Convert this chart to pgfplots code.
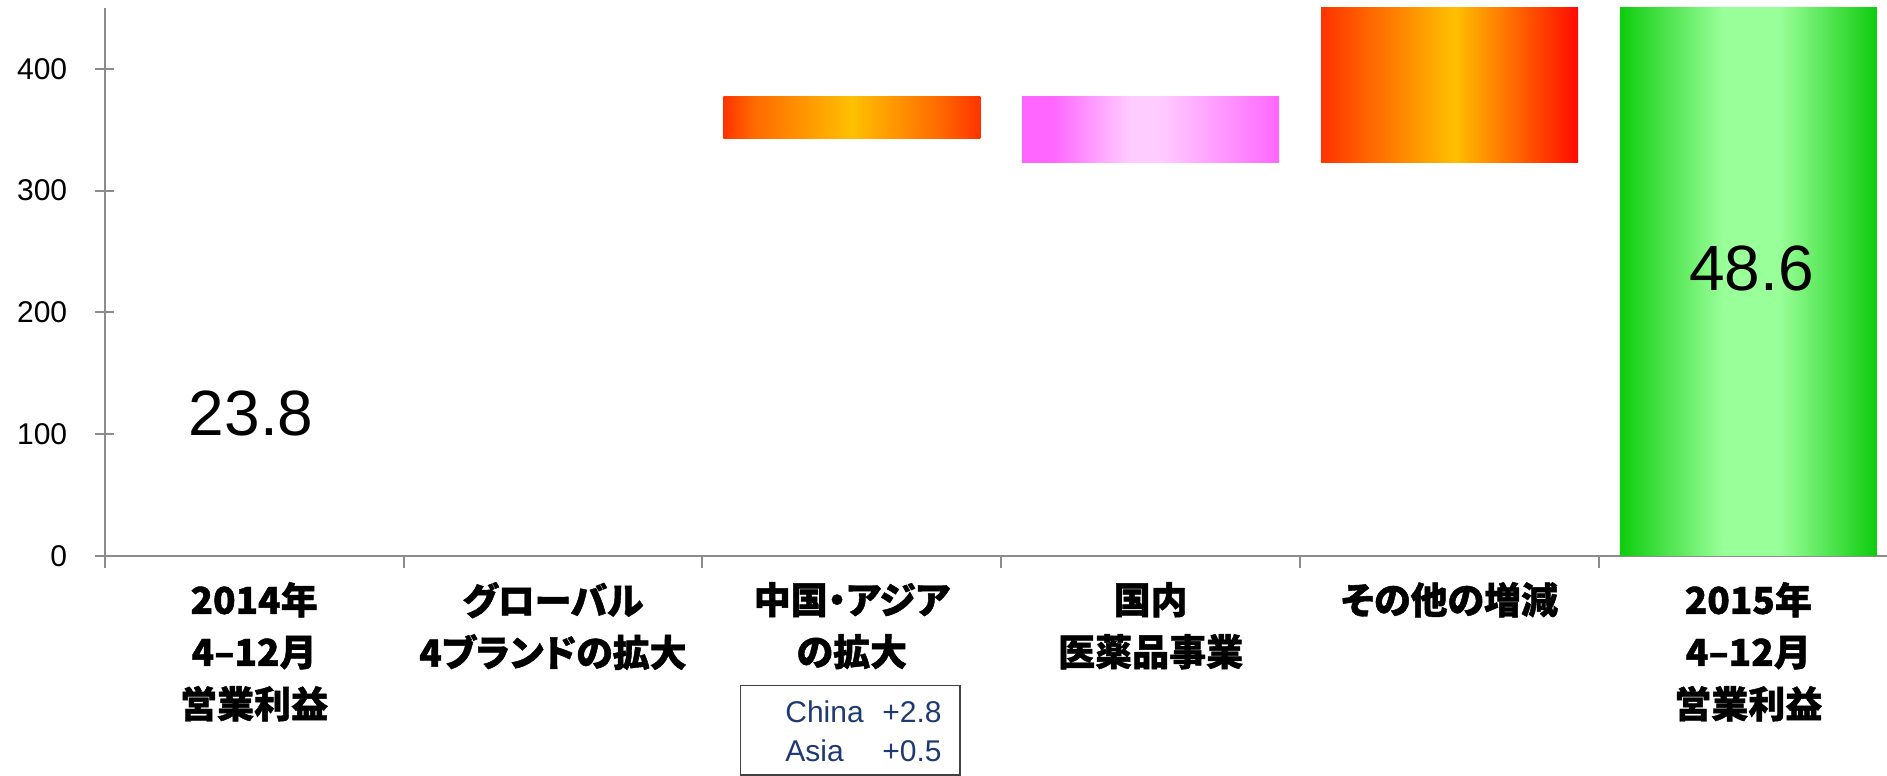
\documentclass[border=0pt]{standalone}
\usepackage{pgfplots}
\pgfplotsset{compat=1.18}
\usepackage{fontspec}
\setmainfont{Liberation Sans}
\newfontfamily\jpfont{Noto Sans CJK JP}[RawFeature=+palt, BoldFeatures={FakeBold=1.2}]

\definecolor{axgray}{HTML}{8C8C8C}
\definecolor{boxgray}{HTML}{404040}
\definecolor{boxblue}{HTML}{1F3A73}
\definecolor{ored}{HTML}{FF3300}
\definecolor{omid}{HTML}{FF6A00}
\definecolor{oyel}{HTML}{FFC000}
\definecolor{rred}{HTML}{FF0A00}
\definecolor{pinkA}{HTML}{FF66FF}
\definecolor{pinkB}{HTML}{FFCCFF}
\definecolor{grA}{HTML}{0ECC0E}
\definecolor{grB}{HTML}{99FF99}

% horizontal shadings: the path's box is mapped on 25bp..75bp
\pgfdeclarehorizontalshading{shOrangeA}{100bp}{color(0bp)=(ored); color(25bp)=(ored); color(31bp)=(omid); color(50bp)=(oyel); color(67bp)=(omid); color(75bp)=(ored); color(100bp)=(ored)}
\pgfdeclarehorizontalshading{shOrangeB}{100bp}{color(0bp)=(ored); color(25bp)=(ored); color(51bp)=(oyel); color(75bp)=(rred); color(100bp)=(rred)}
\pgfdeclarehorizontalshading{shPink}{100bp}{color(0bp)=(pinkA); color(25bp)=(pinkA); color(31bp)=(pinkA); color(46bp)=(pinkB); color(52bp)=(pinkB); color(75bp)=(pinkA); color(100bp)=(pinkA)}
\pgfdeclarehorizontalshading{shGreen}{100bp}{color(0bp)=(grA); color(25bp)=(grA); color(45bp)=(grB); color(56bp)=(grB); color(75bp)=(grA); color(100bp)=(grA)}

\begin{document}
\begin{tikzpicture}
\begin{axis}[
  at={(52.35pt,110pt)}, anchor=south west,
  scale only axis, width=891pt, height=274pt,
  xmin=-0.5, xmax=5.463, ymin=0, ymax=450,
  axis lines=left,
  axis line style={draw=axgray, line width=1pt, -},
  xtick={0,1,2,3,4,5},
  xticklabels={
    {2014年\\4–12月\\営業利益},
    {グローバル\\4ブランドの拡大},
    {中国・アジア\\の拡大},
    {国内\\医薬品事業},
    {その他の増減},
    {2015年\\4–12月\\営業利益}},
  minor xtick={-0.5,0.5,1.5,2.5,3.5,4.5},
  major x tick style={draw=none},
  minor x tick style={draw=axgray, line width=1pt},
  minor tick length=6pt,
  xtick align=outside,
  ytick={0,100,200,300,400},
  ytick align=center,
  major tick length=9.5pt,
  major y tick style={draw=axgray, line width=1pt},
  yticklabel style={font=\fontsize{15}{17}\selectfont, /pgf/number format/assume math mode=true, xshift=-10.5pt},
  xticklabel style={font=\jpfont\bfseries\fontsize{18.5}{26}\selectfont, align=center, yshift=0pt},
]
% floating waterfall bars: category 2, 3, 4 and final total at 5
\addplot[draw=none, shade, shading=shOrangeA] coordinates {(1.57,343) (2.43,343) (2.43,377) (1.57,377)} -- cycle;
\addplot[draw=none, shade, shading=shPink] coordinates {(2.57,323) (3.43,323) (3.43,377) (2.57,377)} -- cycle;
\addplot[draw=none, shade, shading=shOrangeB] coordinates {(3.57,323) (4.43,323) (4.43,486) (3.57,486)} -- cycle;
\addplot[draw=none, shade, shading=shGreen] coordinates {(4.57,0) (5.43,0) (5.43,486) (4.57,486)} -- cycle;
\node[font=\fontsize{32}{36}\selectfont] at (axis cs:-0.01,117.4) {23.8};
\node[font=\fontsize{32}{36}\selectfont] at (axis cs:5.01,236) {48.6};
\end{axis}
\draw[draw=boxgray, line width=0.8pt] (370.3pt,0.4pt) rectangle (480pt,45.2pt);
\begin{scope}[every node/.style={anchor=base west, inner sep=0pt, font=\fontsize{15}{18}\selectfont, text=boxblue}]
\node at (392.5pt,26.5pt) {China};
\node at (441pt,26.5pt) {+2.8};
\node at (392.5pt,7.2pt) {Asia};
\node at (441pt,7.2pt) {+0.5};
\end{scope}
\pgfresetboundingbox
\useasboundingbox (0,0) rectangle (943.5pt,388pt);
\end{tikzpicture}
\end{document}
